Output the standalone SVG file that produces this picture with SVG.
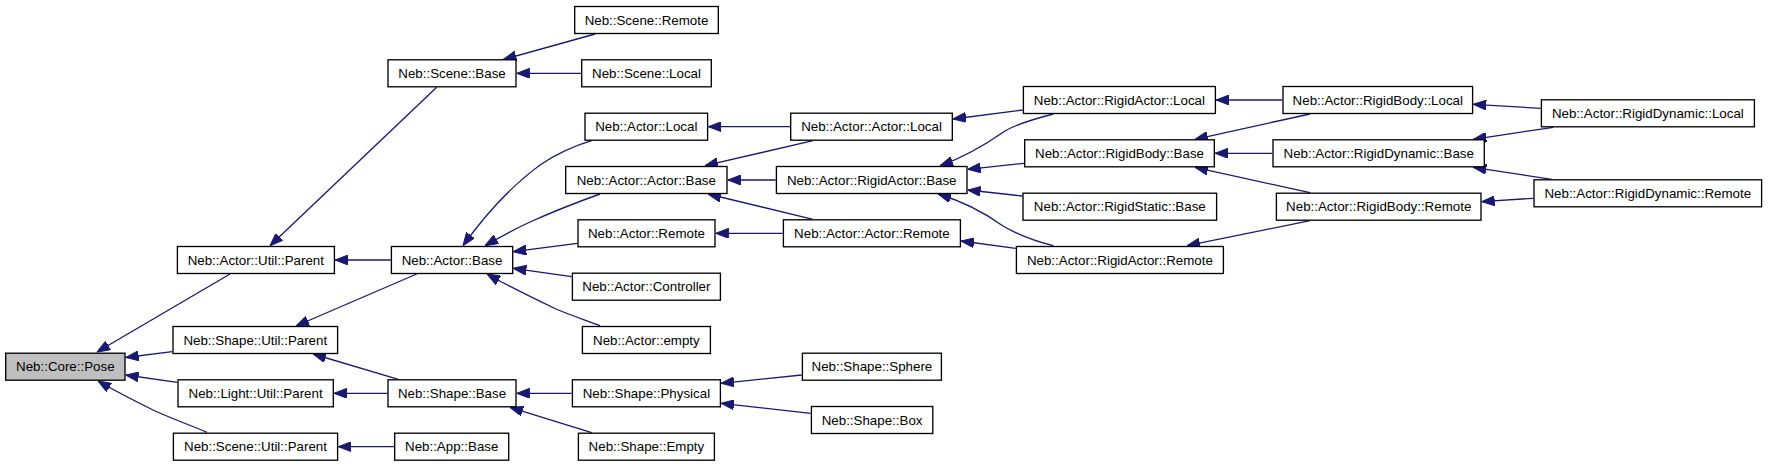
<svg xmlns="http://www.w3.org/2000/svg" width="1768" height="467" viewBox="0 0 1768 467">
<style>
.n rect{fill:#ffffff;stroke:#000000;stroke-width:1.33}
.n.root rect{fill:#bfbfbf}
.n text{font-family:"Liberation Sans",Arial,Helvetica,sans-serif;font-size:13.33px;fill:#000000;text-anchor:middle}
.e path{fill:none;stroke:#191970;stroke-width:1.33;marker-end:url(#ah)}
</style>
<defs>
<marker id="ah" viewBox="0 0 13 10" refX="13" refY="5" markerWidth="13" markerHeight="10" markerUnits="userSpaceOnUse" orient="auto">
<path d="M0,0 L13,5 L0,10 Z" fill="#191970" stroke="#191970" stroke-width="1"/>
</marker>
</defs>
<rect width="1768" height="467" fill="#ffffff"/>
<g id="edges" class="e">
<path d="M230,274 L97,352"/>
<path d="M172.3,351.7 L125.7,357.5"/>
<path d="M177.3,382.3 L125.7,375"/>
<path d="M207,432.3 C190,425 170,418 153,410 C135,401 115,391 98,381"/>
<path d="M436.7,87.3 L270,245.7"/>
<path d="M390.7,260 L335,260"/>
<path d="M416.7,274 L296,326"/>
<path d="M398.3,379.3 L313,354"/>
<path d="M387.3,393.3 L334,393.3"/>
<path d="M394,446.7 L338.3,446.7"/>
<path d="M595,34 L503.3,59.5"/>
<path d="M581,73.3 L516.7,73.3"/>
<path d="M591.7,140.7 C570,147 555,155 540,165 C510,187 485,215 463,245.7"/>
<path d="M600,194 C575,203 550,213 530,222 C515,229 500,237 485,245.7"/>
<path d="M577.3,243.3 L513.3,251.7"/>
<path d="M571.7,276.7 L513.3,268.3"/>
<path d="M600,325.7 C585,320 570,315 556,309 C535,299 510,287 487,274"/>
<path d="M790,126.7 L708.3,126.7"/>
<path d="M813,140.7 L705,165.7"/>
<path d="M775.7,180 L727.7,180"/>
<path d="M813,219.3 L708,194"/>
<path d="M782.7,233.3 L715.7,233.3"/>
<path d="M571.7,393.3 L516.7,393.3"/>
<path d="M591.7,432.7 L510,407.3"/>
<path d="M801.7,375 L721,383.3"/>
<path d="M810.7,413.3 L721,403.3"/>
<path d="M1022.7,110 L953,119"/>
<path d="M1053.3,114 C1030,120 1015,125 1005,131 C985,145 965,157 940,165.7"/>
<path d="M1024,163.3 L967.7,169.3"/>
<path d="M1022.3,196 L967.7,190"/>
<path d="M1053.3,245.7 C1030,240 1015,233 1003,226 C985,213 965,202 938,194"/>
<path d="M1015.7,248.3 L961,241"/>
<path d="M1282.3,100 L1216,100"/>
<path d="M1310,114 L1195,139.3"/>
<path d="M1272.3,153.3 L1215,153.3"/>
<path d="M1310,192.7 L1195,167.3"/>
<path d="M1310,220.7 L1187,245.7"/>
<path d="M1540.7,108.3 L1473.3,104.3"/>
<path d="M1553.3,127.3 L1473.3,139.3"/>
<path d="M1551.7,179.3 L1473.3,167.3"/>
<path d="M1533.3,198.3 L1481.7,201.7"/>
</g>
<g id="n1" class="n root"><rect x="5.7" y="353.2" width="119.3" height="27"/><text x="65.3" y="371.4">Neb::Core::Pose</text></g>
<g id="n2" class="n"><rect x="177.4" y="246.5" width="157" height="27"/><text x="255.8" y="264.7">Neb::Actor::Util::Parent</text></g>
<g id="n3" class="n"><rect x="173" y="326.5" width="164.6" height="27"/><text x="255.3" y="344.7">Neb::Shape::Util::Parent</text></g>
<g id="n4" class="n"><rect x="178" y="379.8" width="155.3" height="27"/><text x="255.6" y="398">Neb::Light::Util::Parent</text></g>
<g id="n5" class="n"><rect x="173.4" y="433.2" width="164.2" height="27"/><text x="255.5" y="451.4">Neb::Scene::Util::Parent</text></g>
<g id="n6" class="n"><rect x="388" y="59.8" width="128" height="27"/><text x="452" y="78">Neb::Scene::Base</text></g>
<g id="n7" class="n"><rect x="391.4" y="246.5" width="121.3" height="27"/><text x="452" y="264.7">Neb::Actor::Base</text></g>
<g id="n8" class="n"><rect x="388" y="379.8" width="128" height="27"/><text x="452" y="398">Neb::Shape::Base</text></g>
<g id="n9" class="n"><rect x="394.7" y="433.2" width="114" height="27"/><text x="451.7" y="451.4">Neb::App::Base</text></g>
<g id="n10" class="n"><rect x="574.7" y="6.5" width="143.6" height="27"/><text x="646.5" y="24.7">Neb::Scene::Remote</text></g>
<g id="n11" class="n"><rect x="581.7" y="59.8" width="129.6" height="27"/><text x="646.5" y="78">Neb::Scene::Local</text></g>
<g id="n12" class="n"><rect x="585" y="113.2" width="122.6" height="27"/><text x="646.3" y="131.4">Neb::Actor::Local</text></g>
<g id="n13" class="n"><rect x="565.7" y="166.5" width="161.3" height="27"/><text x="646.3" y="184.7">Neb::Actor::Actor::Base</text></g>
<g id="n14" class="n"><rect x="578" y="219.8" width="137" height="27"/><text x="646.5" y="238">Neb::Actor::Remote</text></g>
<g id="n15" class="n"><rect x="572.4" y="273.2" width="148" height="27"/><text x="646.4" y="291.4">Neb::Actor::Controller</text></g>
<g id="n16" class="n"><rect x="582.4" y="326.5" width="128" height="27"/><text x="646.4" y="344.7">Neb::Actor::empty</text></g>
<g id="n17" class="n"><rect x="572.4" y="379.8" width="148" height="27"/><text x="646.4" y="398">Neb::Shape::Physical</text></g>
<g id="n18" class="n"><rect x="578.4" y="433.2" width="136" height="27"/><text x="646.4" y="451.4">Neb::Shape::Empty</text></g>
<g id="n19" class="n"><rect x="790.7" y="113.2" width="161.6" height="27"/><text x="871.5" y="131.4">Neb::Actor::Actor::Local</text></g>
<g id="n20" class="n"><rect x="776.4" y="166.5" width="190.6" height="27"/><text x="871.7" y="184.7">Neb::Actor::RigidActor::Base</text></g>
<g id="n21" class="n"><rect x="783.4" y="219.8" width="177" height="27"/><text x="871.9" y="238">Neb::Actor::Actor::Remote</text></g>
<g id="n22" class="n"><rect x="802.4" y="353.2" width="139" height="27"/><text x="871.9" y="371.4">Neb::Shape::Sphere</text></g>
<g id="n23" class="n"><rect x="811.4" y="406.5" width="121.4" height="27"/><text x="872.1" y="424.7">Neb::Shape::Box</text></g>
<g id="n24" class="n"><rect x="1023.4" y="86.5" width="192" height="27"/><text x="1119.4" y="104.7">Neb::Actor::RigidActor::Local</text></g>
<g id="n25" class="n"><rect x="1024.7" y="139.8" width="189.6" height="27"/><text x="1119.5" y="158">Neb::Actor::RigidBody::Base</text></g>
<g id="n26" class="n"><rect x="1023" y="193.2" width="193.6" height="27"/><text x="1119.8" y="211.4">Neb::Actor::RigidStatic::Base</text></g>
<g id="n27" class="n"><rect x="1016.4" y="246.5" width="207" height="27"/><text x="1119.9" y="264.7">Neb::Actor::RigidActor::Remote</text></g>
<g id="n28" class="n"><rect x="1283" y="86.5" width="189.6" height="27"/><text x="1377.8" y="104.7">Neb::Actor::RigidBody::Local</text></g>
<g id="n29" class="n"><rect x="1273" y="139.8" width="211.3" height="27"/><text x="1378.7" y="158">Neb::Actor::RigidDynamic::Base</text></g>
<g id="n30" class="n"><rect x="1276.4" y="193.2" width="204.6" height="27"/><text x="1378.7" y="211.4">Neb::Actor::RigidBody::Remote</text></g>
<g id="n31" class="n"><rect x="1541.4" y="99.8" width="213" height="27"/><text x="1647.9" y="118">Neb::Actor::RigidDynamic::Local</text></g>
<g id="n32" class="n"><rect x="1534" y="179.8" width="227.6" height="27"/><text x="1647.8" y="198">Neb::Actor::RigidDynamic::Remote</text></g>
</svg>
